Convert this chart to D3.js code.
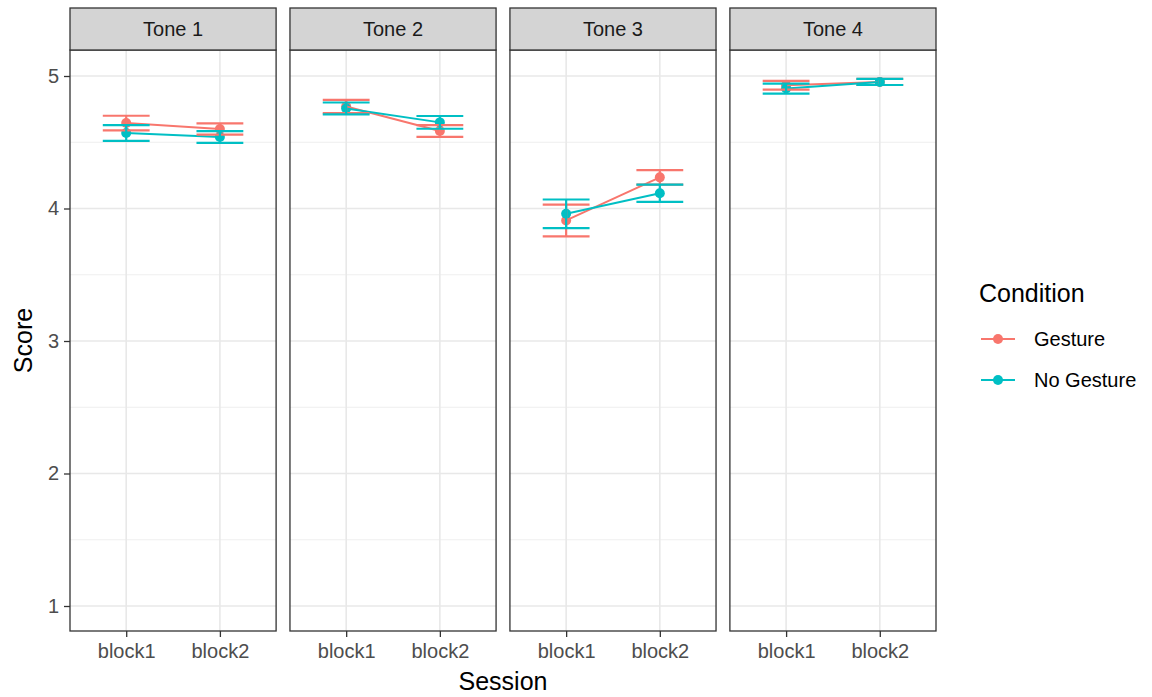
<!DOCTYPE html>
<html>
<head>
<meta charset="utf-8">
<script src="https://cdn.jsdelivr.net/npm/d3@7"></script>
<style>
  body { margin: 0; background: #fff; }
  text { font-family: "Liberation Sans", Arial, sans-serif; }
</style>
</head>
<body>
<svg width="1152" height="697"></svg>
<script>
const tones = ["Tone 1", "Tone 2", "Tone 3", "Tone 4"];
const sessions = ["block1", "block2"];
const conditions = ["Gesture", "No Gesture"];
const colors = ["#F8766D", "#00BFC4"];

// mean score per tone, [block1, block2]
const gestureMean = [[4.645, 4.60], [4.77, 4.585], [3.91, 4.235], [4.93, 4.955]];
const gestureErr = [[0.055, 0.043], [0.05, 0.045], [0.12, 0.055], [0.033, 0.023]];
const noGestureMean = [[4.57, 4.54], [4.755, 4.65], [3.96, 4.115], [4.905, 4.955]];
const noGestureErr = [[0.06, 0.044], [0.045, 0.048], [0.108, 0.065], [0.038, 0.023]];

const yTicks = [1, 2, 3, 4, 5];
const yMinor = [1.5, 2.5, 3.5, 4.5];

const svg = d3.select("svg");

const plotLeft = 70, plotRight = 936;
const stripTop = 8, panelTop = 50, panelBottom = 631;

const fx = d3.scaleBand()
  .domain(tones)
  .range([plotLeft, plotRight])
  .paddingInner(0.063);

const y = d3.scaleLinear().domain([1, 5]).range([606, 76]);

const x = d3.scalePoint()
  .domain(sessions)
  .range([0, fx.bandwidth()])
  .padding(0.6);
const step = x.step();

const series = conditions.map((c, ci) => ({
  cond: c,
  color: colors[ci],
  mean: ci === 0 ? gestureMean : noGestureMean,
  err: ci === 0 ? gestureErr : noGestureErr
}));

tones.forEach((tone, ti) => {
  const g = svg.append("g").attr("transform", `translate(${fx(tone)},0)`);
  const w = fx.bandwidth();

  // grid
  g.selectAll(".minor").data(yMinor).enter().append("line")
    .attr("x1", 0).attr("x2", w)
    .attr("y1", d => y(d)).attr("y2", d => y(d))
    .attr("stroke", "#EBEBEB").attr("stroke-width", 0.8);
  g.selectAll(".major").data(yTicks).enter().append("line")
    .attr("x1", 0).attr("x2", w)
    .attr("y1", d => y(d)).attr("y2", d => y(d))
    .attr("stroke", "#E8E8E8").attr("stroke-width", 1.6);
  g.selectAll(".xmajor").data(sessions).enter().append("line")
    .attr("x1", d => x(d)).attr("x2", d => x(d))
    .attr("y1", panelTop).attr("y2", panelBottom)
    .attr("stroke", "#E8E8E8").attr("stroke-width", 1.6);

  // points
  series.forEach(s => {
    g.selectAll(null).data(sessions).enter().append("circle")
      .attr("cx", d => x(d))
      .attr("cy", (d, i) => y(s.mean[ti][i]))
      .attr("r", 5)
      .attr("fill", s.color);
  });

  // lines
  series.forEach(s => {
    g.append("path")
      .datum(sessions)
      .attr("fill", "none")
      .attr("stroke", s.color)
      .attr("stroke-width", 2)
      .attr("d", d3.line().x(d => x(d)).y((d, i) => y(s.mean[ti][i])));
  });

  // error bars
  series.forEach(s => {
    sessions.forEach((sess, i) => {
      const cx = x(sess), hw = step * 0.25;
      const lo = y(s.mean[ti][i] - s.err[ti][i]);
      const hi = y(s.mean[ti][i] + s.err[ti][i]);
      const eg = g.append("g").attr("stroke", s.color).attr("stroke-width", 2.2);
      eg.append("line").attr("x1", cx - hw).attr("x2", cx + hw).attr("y1", hi).attr("y2", hi);
      eg.append("line").attr("x1", cx - hw).attr("x2", cx + hw).attr("y1", lo).attr("y2", lo);
      eg.append("line").attr("x1", cx).attr("x2", cx).attr("y1", hi).attr("y2", lo);
    });
  });

  // panel border
  g.append("rect")
    .attr("x", 0).attr("y", panelTop)
    .attr("width", w).attr("height", panelBottom - panelTop)
    .attr("fill", "none").attr("stroke", "#333333").attr("stroke-width", 1.3);

  // strip
  g.append("rect")
    .attr("x", 0).attr("y", stripTop)
    .attr("width", w).attr("height", panelTop - stripTop)
    .attr("fill", "#D4D4D4").attr("stroke", "#333333").attr("stroke-width", 1.3);
  g.append("text")
    .attr("x", w / 2).attr("y", (stripTop + panelTop) / 2)
    .attr("dy", "0.35em")
    .attr("text-anchor", "middle")
    .attr("font-size", 20)
    .attr("fill", "#1A1A1A")
    .text(tone);

  // x axis
  const xa = g.append("g").attr("transform", `translate(0,${panelBottom})`)
    .call(d3.axisBottom(x).tickSize(6).tickPadding(7));
  xa.select(".domain").remove();
  xa.selectAll("line").attr("stroke", "#333333").attr("stroke-width", 1.3);
  xa.selectAll("text").attr("font-size", 20).attr("fill", "#4D4D4D")
    .attr("font-family", "Liberation Sans, Arial, sans-serif");
});

// y axis
const ya = svg.append("g").attr("transform", `translate(${plotLeft},0)`)
  .call(d3.axisLeft(y).tickValues(yTicks).tickFormat(d3.format("d")).tickSize(6).tickPadding(5));
ya.select(".domain").remove();
ya.selectAll("line").attr("stroke", "#333333").attr("stroke-width", 1.3);
ya.selectAll("text").attr("font-size", 20).attr("fill", "#4D4D4D")
  .attr("font-family", "Liberation Sans, Arial, sans-serif");

// axis titles
svg.append("text")
  .attr("x", (plotLeft + plotRight) / 2).attr("y", 690)
  .attr("text-anchor", "middle")
  .attr("font-size", 25)
  .attr("fill", "#000")
  .text("Session");

svg.append("text")
  .attr("transform", `translate(32,${(panelTop + panelBottom) / 2}) rotate(-90)`)
  .attr("text-anchor", "middle")
  .attr("font-size", 25)
  .attr("fill", "#000")
  .text("Score");

// legend
const legend = svg.append("g").attr("transform", "translate(979,0)");
legend.append("text")
  .attr("x", 0).attr("y", 302)
  .attr("font-size", 25)
  .attr("fill", "#000")
  .text("Condition");

const keyY = d3.scalePoint().domain(conditions).range([339, 380]);
conditions.forEach((c, ci) => {
  const ky = keyY(c);
  legend.append("line")
    .attr("x1", 2).attr("x2", 36).attr("y1", ky).attr("y2", ky)
    .attr("stroke", colors[ci]).attr("stroke-width", 2.2);
  legend.append("circle")
    .attr("cx", 19).attr("cy", ky).attr("r", 5)
    .attr("fill", colors[ci]);
  legend.append("text")
    .attr("x", 55).attr("y", ky).attr("dy", "0.35em")
    .attr("font-size", 20)
    .attr("fill", "#000")
    .text(c);
});
</script>
</body>
</html>
